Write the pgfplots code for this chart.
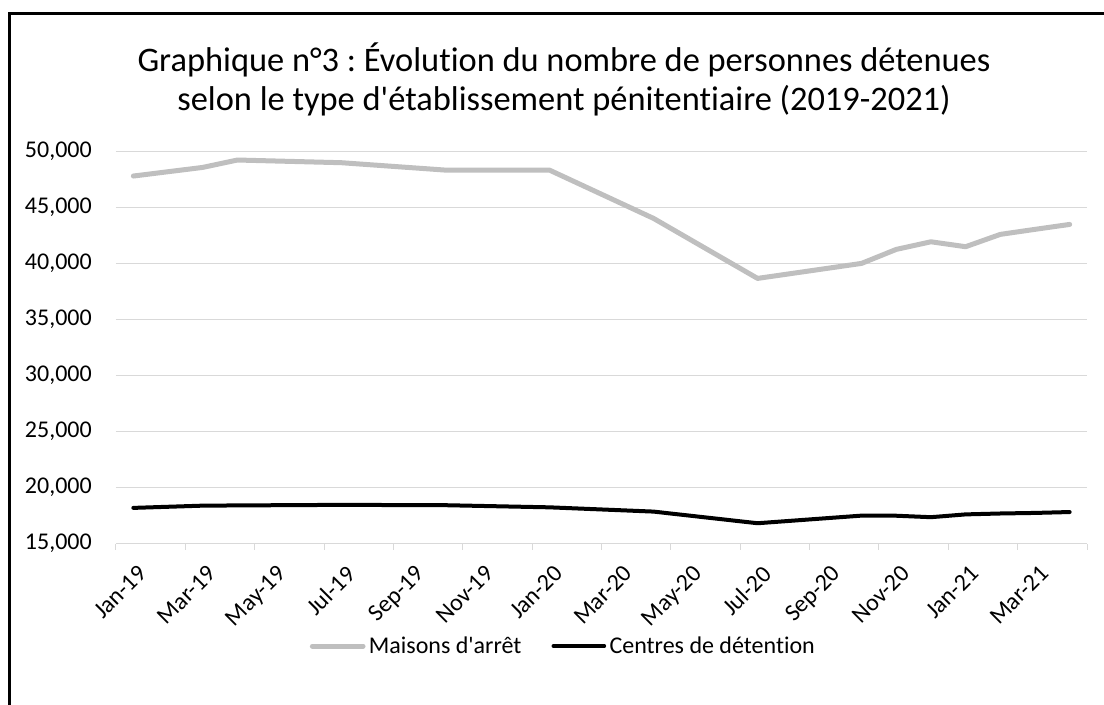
\documentclass[border=0pt]{standalone}
\usepackage{fontspec}
\setmainfont{Carlito}[Ligatures={NoCommon}]
\usepackage{pgfplots}
\pgfplotsset{compat=1.18}
\definecolor{grayline}{HTML}{BFBFBF}
\definecolor{gridc}{HTML}{D9D9D9}
\frenchspacing
\begin{document}
\begin{tikzpicture}[x=0.75pt,y=0.75pt]
\useasboundingbox (0,0) rectangle (1104,704);
\draw[line width=2.25pt] (9,-10) -- (9,690) -- (1120,690);
\node[font=\fontsize{25.8}{30}\selectfont, anchor=base] at (564,632) {Graphique n°3 : Évolution du nombre de personnes détenues};
\node[font=\fontsize{25.8}{30}\selectfont, anchor=base] at (564,593) {selon le type d\textquotesingle établissement pénitentiaire (2019-2021)};
\begin{axis}[
  at={(87pt,120.2pt)}, anchor=south west, scale only axis,
  width=728.25pt, height=294pt,
  xmin=0, xmax=28, ymin=15000, ymax=50000,
  xtick={0,2,...,28},
  xticklabels={Jan-19,Mar-19,May-19,Jul-19,Sep-19,Nov-19,Jan-20,Mar-20,May-20,Jul-20,Sep-20,Nov-20,Jan-21,Mar-21,{}},
  ytick={15000,20000,...,50000},
  axis x line*=bottom, axis y line*=left,
  y axis line style={draw=none},
  x axis line style={gridc, line width=0.75pt, -},
  tick align=outside, major tick length=4.5pt,
  xtick style={gridc, line width=0.75pt},
  ytick style={draw=none},
  ymajorgrids, grid style={gridc, line width=0.75pt},
  tick label style={font=\fontsize{18}{20}\selectfont},
  /pgf/number format/assume math mode=true,
  /pgf/number format/1000 sep={,},
  scaled y ticks=false,
  yticklabel style={anchor=east, inner sep=0pt, xshift=-13.5pt},
  xticklabel style={xshift=15.75pt, yshift=-10.5pt, rotate=45, anchor=north east, inner sep=0pt},
  legend style={draw=none, fill=none, at={(0.4614,-0.261)}, anchor=center, legend columns=2,
    font=\fontsize{18}{20}\selectfont,
    nodes={inner sep=2.5pt},
    /tikz/every even column/.append style={column sep=20pt}},
  legend image code/.code={\draw[#1, line cap=round] (0pt,0pt) -- (38pt,0pt);},
]
\addplot[grayline, line width=3.75pt, line join=round, line cap=round] coordinates {
(0.5,47830) (2.5,48600) (3.5,49260) (6.5,49020) (9.5,48360) (12.5,48360) (15.5,44050) (18.5,38690) (21.5,40030) (22.5,41280) (23.5,41960) (24.5,41520) (25.5,42620) (26.5,43070) (27.5,43510)
};
\addlegendentry{Maisons d\textquotesingle arrêt}
\addplot[black, line width=3pt, line join=round, line cap=round] coordinates {
(0.5,18200) (2.5,18400) (3.5,18420) (6.5,18470) (9.5,18440) (12.5,18250) (15.5,17870) (18.5,16830) (21.5,17510) (22.5,17500) (23.5,17370) (24.5,17620) (25.5,17700) (26.5,17750) (27.5,17830)
};
\addlegendentry{Centres de détention}
\end{axis}
\end{tikzpicture}
\end{document}
